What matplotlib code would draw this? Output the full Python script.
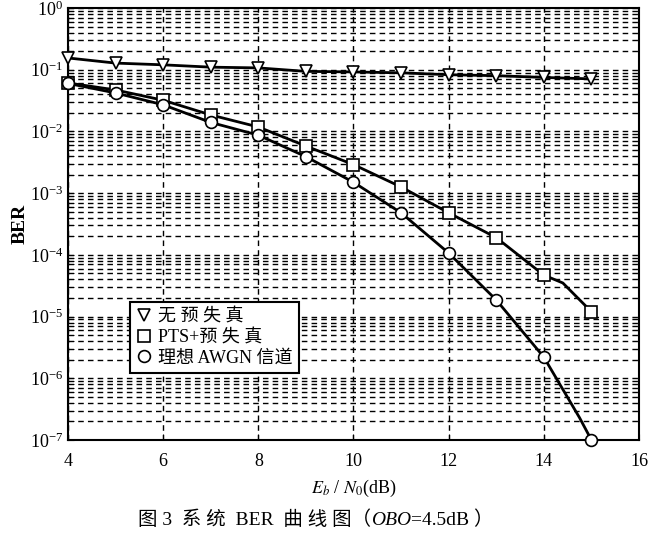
import matplotlib
matplotlib.use('Agg')
import matplotlib.pyplot as plt
from matplotlib.ticker import LogLocator, NullFormatter, FixedLocator

plt.rcParams['font.family'] = ['Liberation Serif', 'Noto Sans CJK SC']
plt.rcParams['mathtext.fontset'] = 'stix'

# Eb/N0 points (dB)
snr = [4, 5, 6, 7, 8, 9, 10, 11, 12, 13, 14, 15]

# no predistortion
ber_none = [0.155, 0.128, 0.12, 0.11, 0.107, 0.094, 0.092, 0.089, 0.083, 0.080, 0.075, 0.071]
# PTS + predistortion
ber_pts = [0.061, 0.047, 0.032, 0.0185, 0.0118, 0.0058, 0.0029, 0.00126, 4.8e-4, 1.9e-4, 4.7e-5, 1.2e-5]
# ideal AWGN
ber_awgn = [0.060, 0.042, 0.027, 0.014, 0.0087, 0.0039, 0.0015, 4.8e-4, 1.07e-4, 1.86e-5, 2.2e-6, 1.0e-7]

# curve vertices between markers
pts_line_snr = [4, 5, 6, 7, 8, 9, 10, 11, 12, 13, 14, 14.4, 15]
pts_line_ber = [0.061, 0.047, 0.032, 0.0185, 0.0118, 0.0058, 0.0029, 0.00126, 4.8e-4, 1.9e-4, 4.7e-5, 3.5e-5, 1.2e-5]
awgn_line_snr = [4, 5, 6, 7, 8, 9, 10, 11, 12, 13, 14, 14.75, 15]
awgn_line_ber = [0.060, 0.042, 0.027, 0.014, 0.0087, 0.0039, 0.0015, 4.8e-4, 1.07e-4, 1.86e-5, 2.2e-6, 2.3e-7, 1.0e-7]

labels = ['无 预 失 真', 'PTS+预 失 真', '理想 AWGN 信道']
xticks = [4, 6, 8, 10, 12, 14, 16]

fig = plt.figure(figsize=(6.56, 5.38), dpi=100)
ax = fig.add_axes([68 / 656, 1 - 440 / 538, 571 / 656, 432 / 538])

ax.set_yscale('log')
ax.set_xlim(4, 16)
ax.set_ylim(1e-7, 1)

mk = dict(markerfacecolor='white', markeredgecolor='black', markeredgewidth=1.2,
          markersize=8.5, clip_on=False, zorder=4)

# lines
ax.plot(snr, ber_none, color='black', lw=2, zorder=3)
ax.plot(pts_line_snr, pts_line_ber, color='black', lw=2, zorder=3)
ax.plot(awgn_line_snr, awgn_line_ber, color='black', lw=2, zorder=3, clip_on=False)

# markers
h1, = ax.plot(snr, ber_none, 'v', **mk)
h2, = ax.plot(snr, ber_pts, 's', **mk)
h3, = ax.plot(snr, ber_awgn, 'o', **mk)

ax.xaxis.set_major_locator(FixedLocator(xticks))
ax.yaxis.set_major_locator(LogLocator(base=10, numticks=20))
ax.yaxis.set_minor_locator(LogLocator(base=10, subs=range(2, 10), numticks=100))
ax.yaxis.set_minor_formatter(NullFormatter())

ax.grid(True, which='major', axis='both', color='black', linestyle=(0, (4, 3)), lw=1.0)
ax.grid(True, which='minor', axis='y', color='black', linestyle=(0, (4, 3)), lw=1.0)
ax.set_axisbelow(True)

ax.tick_params(which='both', direction='in', labelsize=13, length=4)
ax.tick_params(axis='x', pad=9)
for s in ax.spines.values():
    s.set_linewidth(1.5)

ax.set_ylabel('BER', fontsize=14, fontweight='bold', labelpad=1)
ax.set_xlabel('$E_b$ / $N_0$(dB)', fontsize=13, labelpad=6)

leg = ax.legend([h1, h2, h3], labels, loc='upper left', bbox_to_anchor=(0.109, 0.319),
                fontsize=13, frameon=True, fancybox=False, handlelength=0.8,
                handletextpad=0.4, borderpad=0.35, labelspacing=0.2, borderaxespad=0)
leg.get_frame().set_edgecolor('black')
leg.get_frame().set_linewidth(1.5)
leg.get_frame().set_alpha(1)

# caption, built from pieces so the CJK text and the italic OBO both render
cap_y = 1 - 520 / 538
t1 = fig.text(138 / 656, cap_y, '图 3  系 统  BER  曲 线 图（', ha='left', va='center', fontsize=14)
t2 = ax.annotate('OBO', xy=(1, 0), xycoords=t1, va='bottom', ha='left',
                 fontsize=14, fontstyle='italic', annotation_clip=False)
t3 = ax.annotate('=4.5dB ）', xy=(1, 0), xycoords=t2, va='bottom', ha='left',
                 fontsize=14, annotation_clip=False)

fig.savefig('out.png', dpi=100)
